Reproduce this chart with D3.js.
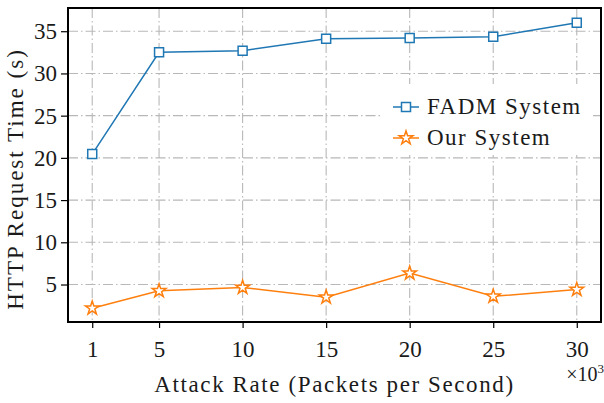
<!DOCTYPE html>
<html>
<head>
<meta charset="utf-8">
<script src="https://cdn.jsdelivr.net/npm/d3@7"></script>
<style>
  body { margin: 0; background: #fff; }
  text { font-family: "Liberation Serif", serif; fill: #1a1a1a; }
</style>
</head>
<body>
<svg id="chart" width="604" height="403"></svg>
<script>
// Dati
const attackRates = [1, 5, 10, 15, 20, 25, 30];
const fadmTimes = [20.45, 32.5, 32.7, 34.1, 34.2, 34.35, 36.0];
const ourTimes = [2.2, 4.25, 4.65, 3.5, 6.35, 3.6, 4.4];
const yTicks = [5, 10, 15, 20, 25, 30, 35];
const seriesNames = ["FADM System", "Our System"];

const margin = { top: 8, right: 3, bottom: 81, left: 68 };
const width = 604 - margin.left - margin.right;
const height = 403 - margin.top - margin.bottom;
const fontSize = "23px";

const svg = d3.select("#chart")
  .append("g")
  .attr("transform", `translate(${margin.left},${margin.top})`);

// Scale
const x = d3.scaleLinear().domain([-0.45, 31.45]).range([0, width]);
const y = d3.scaleLinear().domain([0.56, 37.75]).range([height, 0]);

const color = d3.scaleOrdinal().domain(seriesNames).range(["#1f77b4", "#ff7f0e"]);

// Griglia
const grid = svg.append("g").attr("class", "grid")
  .attr("stroke", "#b8b8b8")
  .attr("stroke-width", 1.1)
  .attr("stroke-dasharray", "10,3,1.5,3");

grid.selectAll("line.v")
  .data(attackRates)
  .join("line")
  .attr("class", "v")
  .attr("x1", d => x(d)).attr("x2", d => x(d))
  .attr("y1", 0).attr("y2", height);

grid.selectAll("line.h")
  .data(yTicks)
  .join("line")
  .attr("class", "h")
  .attr("x1", 0).attr("x2", width)
  .attr("y1", d => y(d)).attr("y2", d => y(d));

// Assi
const xAxis = svg.append("g")
  .attr("transform", `translate(0,${height})`)
  .call(d3.axisBottom(x).tickValues(attackRates).tickSize(6).tickPadding(13).tickFormat(d => d));

const yAxis = svg.append("g")
  .call(d3.axisLeft(y).tickValues(yTicks).tickSize(7).tickPadding(4));

[xAxis, yAxis].forEach(ax => {
  ax.select(".domain").remove();
  ax.selectAll("line").attr("stroke", "#000").attr("stroke-width", 1.2);
  ax.selectAll("text").attr("font-size", fontSize).attr("font-family", "Liberation Serif, serif").attr("fill", "#1a1a1a");
});

// Linee
const line = d3.line().x((d, i) => x(attackRates[i])).y(d => y(d));

const series = [
  { name: "FADM System", values: fadmTimes, marker: "square" },
  { name: "Our System", values: ourTimes, marker: "star" }
];

const starPath = d3.symbol().type(d3.symbolStar).size(58)();
const squarePath = d3.symbol().type(d3.symbolSquare).size(81)();

series.forEach(s => {
  svg.append("path")
    .datum(s.values)
    .attr("fill", "none")
    .attr("stroke", color(s.name))
    .attr("stroke-width", 1.5)
    .attr("d", line);

  svg.selectAll(`path.m-${s.marker}`)
    .data(s.values)
    .join("path")
    .attr("class", `m-${s.marker}`)
    .attr("transform", (d, i) => `translate(${x(attackRates[i])},${y(d)})`)
    .attr("d", s.marker === "star" ? starPath : squarePath)
    .attr("fill", "#fff")
    .attr("stroke", color(s.name))
    .attr("stroke-width", 1.5);
});

// Cornice
svg.append("rect")
  .attr("width", width).attr("height", height)
  .attr("fill", "none").attr("stroke", "#000").attr("stroke-width", 2);

// Leggenda
const legend = svg.append("g").attr("transform", `translate(${383 - margin.left},${84 - margin.top})`);
legend.append("rect").attr("width", 207).attr("height", 71).attr("fill", "#fff");

series.forEach((s, i) => {
  const g = legend.append("g").attr("transform", `translate(10,${23 + i * 31})`);
  g.append("line").attr("x1", 0).attr("x2", 26).attr("stroke", color(s.name)).attr("stroke-width", 1.5);
  g.append("path")
    .attr("transform", "translate(13,0)")
    .attr("d", s.marker === "star" ? starPath : squarePath)
    .attr("fill", "#fff").attr("stroke", color(s.name)).attr("stroke-width", 1.5);
  g.append("text")
    .attr("x", 34).attr("y", 7)
    .attr("font-size", fontSize)
    .attr("letter-spacing", "1.5px")
    .text(s.name);
});

// Etichette assi
svg.append("text")
  .attr("text-anchor", "middle")
  .attr("x", width / 2)
  .attr("y", height + 70)
  .attr("font-size", fontSize)
  .attr("letter-spacing", "1.6px")
  .text("Attack Rate (Packets per Second)");

svg.append("text")
  .attr("text-anchor", "middle")
  .attr("transform", `translate(${-45},${height / 2 + 14}) rotate(-90)`)
  .attr("font-size", fontSize)
  .attr("letter-spacing", "2px")
  .text("HTTP Request Time (s)");

const mult = svg.append("text")
  .attr("text-anchor", "end")
  .attr("x", width + 3)
  .attr("y", height + 59)
  .attr("font-size", "20px");
mult.append("tspan").text("×10");
mult.append("tspan").attr("font-size", "13px").attr("dy", -8).text("3");
</script>
</body>
</html>
